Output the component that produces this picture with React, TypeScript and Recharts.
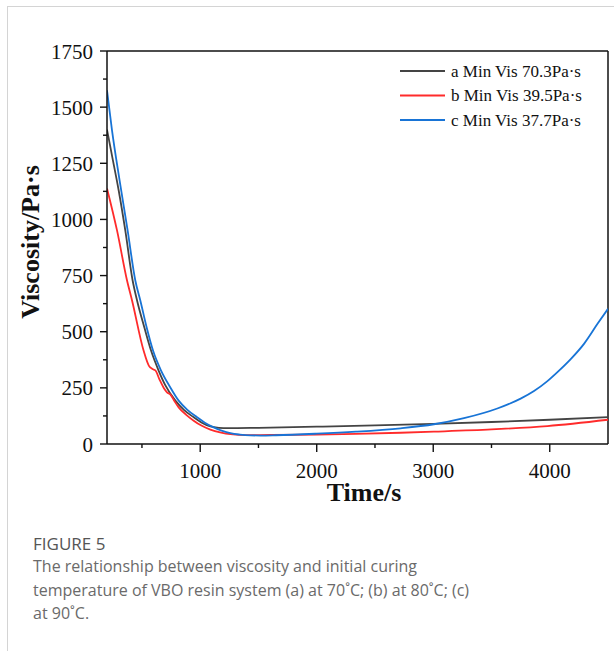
import { LineChart, Line, XAxis, YAxis, Legend, ReferenceLine, Label } from 'recharts';

// a: 70 °C, b: 80 °C, c: 90 °C
const timeA = [200, 250, 300, 357, 420, 458, 520, 578, 643, 700, 787, 860, 944, 1010, 1087, 1160, 1240, 1500, 2000, 2500, 3000, 3500, 4000, 4500];
const viscA = [1400, 1265, 1130, 951, 728, 639, 520, 416, 327, 262, 193, 152, 119, 96, 78, 72, 70.3, 72, 77, 83, 90, 98, 108, 120];

const timeB = [200, 286, 372, 415, 514, 560, 590, 615, 650, 690, 715, 745, 780, 815, 880, 944, 1010, 1087, 1180, 1259, 1400, 1600, 2000, 2336, 2720, 3006, 3500, 3980, 4500];
const viscB = [1138, 951, 728, 639, 416, 348, 334, 328, 288, 247, 230, 220, 190, 163, 130, 104, 82, 64, 51, 44, 39.5, 40, 42, 45, 50, 55, 65, 80, 108];

const timeC = [200, 243, 308, 377, 443, 486, 540, 595, 664, 740, 815, 890, 973, 1040, 1116, 1190, 1259, 1340, 1431, 1520, 1650, 2000, 2336, 2720, 3006, 3264, 3550, 3750, 3865, 3980, 4066, 4180, 4294, 4410, 4500];
const viscC = [1575, 1397, 1174, 951, 728, 639, 520, 416, 327, 255, 193, 152, 119, 95, 74, 58, 48, 42, 38.5, 37.7, 39, 46, 55, 70, 88, 115, 158, 202, 236, 280, 320, 378, 446, 535, 602];

const xMajor = [1000, 2000, 3000, 4000];
const xMinor = [500, 1500, 2500, 3500];
const yMajor = [0, 250, 500, 750, 1000, 1250, 1500, 1750];
const yMinor = [125, 375, 625, 875, 1125, 1375, 1625];

const captionTitle = 'FIGURE 5';
const captionLines = [
  'The relationship between viscosity and initial curing',
  'temperature of VBO resin system (a) at 70˚C; (b) at 80˚C; (c)',
  'at 90˚C.',
];

const toRows = (t: number[], v: number[]) => t.map((time, i) => ({ time, v: v[i] }));

const SERIF = '"Liberation Serif", "Times New Roman", serif';

function XTick({ x, y, payload }: any) {
  const major = xMajor.includes(payload.value);
  return (
    <g>
      <line x1={x} x2={x} y1={y} y2={y + (major ? 8 : 4)} stroke="#111" strokeWidth={1.4} />
      {major && (
        <text x={x} y={y + 33.5} textAnchor="middle" fontFamily={SERIF} fontSize={21} fill="#111">
          {payload.value}
        </text>
      )}
    </g>
  );
}

function YTick({ x, y, payload }: any) {
  const major = yMajor.includes(payload.value);
  return (
    <g>
      <line x1={x - (major ? 7 : 4)} x2={x} y1={y} y2={y} stroke="#111" strokeWidth={1.4} />
      {major && (
        <text x={x - 14} y={y + 7.5} textAnchor="end" fontFamily={SERIF} fontSize={21} fill="#111">
          {payload.value}
        </text>
      )}
    </g>
  );
}

function LegendBox({ payload }: any) {
  return (
    <svg width={210} height={80}>
      {(payload || []).map((p: any, i: number) => (
        <g key={p.value}>
          <line x1={2} x2={47} y1={13 + i * 24.5} y2={13 + i * 24.5} stroke={p.color} strokeWidth={2} />
          <text x={53} y={18.7 + i * 24.5} fontFamily={SERIF} fontSize={17} fill="#111">
            {p.value}
          </text>
        </g>
      ))}
    </svg>
  );
}

export default function App() {
  return (
    <div style={{ position: 'absolute', left: 0, top: 0, width: 614, height: 651, background: '#fff' }}>
      <div style={{ position: 'absolute', left: 7, top: 6, width: 607, height: 645, borderLeft: '1px solid #d4d4d4', borderTop: '1px solid #d4d4d4' }} />
      <div style={{ position: 'absolute', left: 0, top: 0 }}>
        <LineChart width={614} height={520} margin={{ top: 51, right: 6, bottom: 0, left: 0 }}>
          <XAxis
            dataKey="time"
            type="number"
            domain={[200, 4500]}
            ticks={[...xMinor, ...xMajor].sort((a, b) => a - b)}
            interval={0}
            height={76}
            tickSize={0}
            tickMargin={0}
            tickLine={false}
            tick={<XTick />}
            axisLine={{ stroke: '#111', strokeWidth: 1.5 }}
            allowDataOverflow
          >
            <Label
              content={({ viewBox }: any) => (
                <text x={364} y={viewBox.y + 57} textAnchor="middle" fontFamily={SERIF} fontWeight="bold" fontSize={26} fill="#111">
                  Time/s
                </text>
              )}
            />
          </XAxis>
          <YAxis
            type="number"
            domain={[0, 1750]}
            ticks={[...yMinor, ...yMajor].sort((a, b) => a - b)}
            interval={0}
            width={107}
            tickSize={0}
            tickMargin={0}
            tickLine={false}
            tick={<YTick />}
            axisLine={{ stroke: '#111', strokeWidth: 1.5 }}
            allowDataOverflow
          >
            <Label
              content={() => (
                <text x={39} y={242} transform="rotate(-90, 39, 242)" textAnchor="middle" fontFamily={SERIF} fontWeight="bold" fontSize={26} fill="#111">
                  Viscosity/Pa·s
                </text>
              )}
            />
          </YAxis>
          <ReferenceLine y={1750} stroke="#111" strokeWidth={1.5} />
          <ReferenceLine x={4500} stroke="#111" strokeWidth={1.5} />
          <Legend
            layout="vertical"
            align="center"
            verticalAlign="middle"
            wrapperStyle={{ top: 58, left: 398, width: 210, height: 80 }}
            content={<LegendBox />}
          />
          <Line data={toRows(timeA, viscA)} dataKey="v" name="a Min Vis 70.3Pa·s" type="monotone" stroke="#444444" strokeWidth={1.8} dot={false} isAnimationActive={false} />
          <Line data={toRows(timeB, viscB)} dataKey="v" name="b Min Vis 39.5Pa·s" type="monotone" stroke="#ff2b2b" strokeWidth={1.8} dot={false} isAnimationActive={false} />
          <Line data={toRows(timeC, viscC)} dataKey="v" name="c Min Vis 37.7Pa·s" type="monotone" stroke="#1874d6" strokeWidth={1.8} dot={false} isAnimationActive={false} />
        </LineChart>
      </div>
      <div style={{ position: 'absolute', left: 33, top: 533.5, fontFamily: '"Open Sans", sans-serif', fontSize: 17, lineHeight: '20px', fontWeight: 500, color: '#555' }}>
        {captionTitle}
      </div>
      <div style={{ position: 'absolute', left: 33, top: 555, fontFamily: '"Open Sans", sans-serif', fontSize: 16, lineHeight: '23.5px', color: '#6a6a6a', whiteSpace: 'nowrap' }}>
        {captionLines.map((l) => (
          <div key={l}>{l}</div>
        ))}
      </div>
    </div>
  );
}
